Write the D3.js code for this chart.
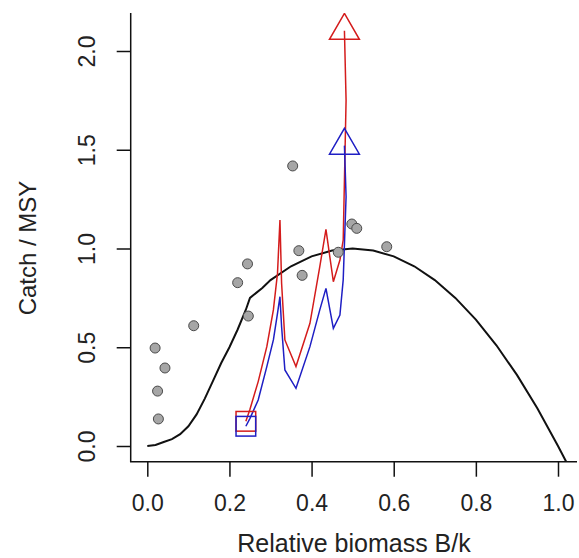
<!DOCTYPE html>
<head>
    <meta charset="utf-8">
    <script src="https://cdn.jsdelivr.net/npm/d3@7"></script>
    <style>
      body {
          margin: 0;
          background: #fff;
      }

      text {
          font-family: 'Liberation Sans', Arial, sans-serif;
          fill: #222;
      }

      .curve {
        fill: none;
        stroke: #111;
        stroke-width: 2px;
      }

      .red {
        fill: none;
        stroke: #d41c1c;
        stroke-width: 1.5px;
      }

      .blue {
        fill: none;
        stroke: #1f1fc4;
        stroke-width: 1.5px;
      }

      .obs {
        fill: #a6a6a6;
        stroke: #4a4a4a;
        stroke-width: 1px;
      }
  </style>
</head>
<body>
<svg id="chart" width="579" height="558"></svg>
<script>
  // observed catch points (B/k, catch/MSY)
  var obsB = [0.019, 0.043, 0.025, 0.027, 0.113, 0.220, 0.244, 0.246, 0.354, 0.369, 0.377, 0.465, 0.498, 0.510, 0.583];
  var obsC = [0.496, 0.395, 0.278, 0.137, 0.609, 0.827, 0.922, 0.658, 1.418, 0.989, 0.864, 0.981, 1.124, 1.102, 1.009];

  // equilibrium curve
  var curveB = [0.00, 0.02, 0.04, 0.06, 0.08, 0.10, 0.12, 0.14, 0.16, 0.18, 0.20, 0.22, 0.24, 0.25, 0.28, 0.30, 0.35, 0.40, 0.45, 0.50, 0.55, 0.60, 0.65, 0.70, 0.75, 0.80, 0.85, 0.90, 0.95, 1.00, 1.02];
  var curveC = [0.00, 0.005, 0.02, 0.035, 0.06, 0.10, 0.16, 0.24, 0.33, 0.42, 0.50, 0.59, 0.69, 0.75, 0.80, 0.84, 0.91, 0.96, 0.99, 1.00, 0.99, 0.96, 0.91, 0.84, 0.75, 0.64, 0.51, 0.36, 0.19, 0.00, -0.08];

  // trajectories: shared biomass, two catch/MSY series
  var trajB    = [0.240, 0.250, 0.270, 0.291, 0.307, 0.317, 0.323, 0.327, 0.335, 0.362, 0.396, 0.420, 0.435, 0.453, 0.469, 0.477, 0.484, 0.480];
  var trajRed  = [0.125, 0.186, 0.326, 0.503, 0.689, 0.874, 1.144, 0.824, 0.537, 0.402, 0.621, 0.908, 1.097, 0.832, 0.942, 1.043, 1.750, 2.103];
  var trajBlue = [0.100, 0.140, 0.233, 0.402, 0.537, 0.672, 0.756, 0.604, 0.385, 0.292, 0.503, 0.689, 0.798, 0.596, 0.663, 0.841, 1.262, 1.521];

  var xTicks = [0, 0.2, 0.4, 0.6, 0.8, 1.0];
  var yTicks = [0, 0.5, 1.0, 1.5, 2.0];

  var svg = d3.select("#chart");
  var box = { left: 130.7, right: 577, top: 13, bottom: 461.7 };

  var x = d3.scaleLinear().domain([0, 1]).range([147.3, 558]);
  var y = d3.scaleLinear().domain([0, 2]).range([446, 51]);

  svg.append("rect").attr("width", 579).attr("height", 558).attr("fill", "#fff");

  svg.append("defs").append("clipPath")
      .attr("id", "clip")
    .append("rect")
      .attr("x", box.left)
      .attr("y", box.top)
      .attr("width", box.right - box.left)
      .attr("height", box.bottom - box.top);

  // L shaped box
  svg.append("path")
      .attr("d", "M" + box.left + "," + box.top + "V" + box.bottom + "H" + box.right)
      .attr("fill", "none")
      .attr("stroke", "#111")
      .attr("stroke-width", 1.5);

  var gx = svg.append("g")
      .attr("transform", "translate(0," + box.bottom + ")")
      .call(d3.axisBottom(x).tickValues(xTicks).tickFormat(d3.format(".1f"))
            .tickSize(15).tickSizeOuter(0).tickPadding(18));
  gx.select(".domain").remove();
  gx.selectAll("line").attr("stroke", "#111").attr("stroke-width", 1.5);
  gx.selectAll("text").attr("font-size", 23).attr("fill", "#222");

  var gy = svg.append("g")
      .attr("transform", "translate(" + box.left + ",0)")
      .call(d3.axisLeft(y).tickValues(yTicks).tickFormat(d3.format(".1f"))
            .tickSize(14).tickSizeOuter(0));
  gy.select(".domain").remove();
  gy.selectAll("line").attr("stroke", "#111").attr("stroke-width", 1.5);
  gy.selectAll("text")
      .attr("font-size", 23)
      .attr("fill", "#222")
      .attr("x", 0)
      .attr("dy", "0.35em")
      .attr("text-anchor", "middle")
      .attr("transform", "translate(-44,0) rotate(-90)");

  svg.append("text")
      .attr("x", 354)
      .attr("y", 552)
      .attr("text-anchor", "middle")
      .attr("font-size", 25)
      .text("Relative biomass B/k");

  svg.append("text")
      .attr("transform", "translate(28,248) rotate(-90)")
      .attr("dy", "0.35em")
      .attr("text-anchor", "middle")
      .attr("font-size", 24)
      .text("Catch / MSY");

  var plot = svg.append("g").attr("clip-path", "url(#clip)");

  var line = d3.line()
      .x(function(d) { return x(d[0]); })
      .y(function(d) { return y(d[1]); });

  plot.append("path")
      .datum(d3.zip(curveB, curveC))
      .attr("class", "curve")
      .attr("d", line);

  plot.append("path")
      .datum(d3.zip(trajB, trajRed))
      .attr("class", "red")
      .attr("d", line);

  plot.append("path")
      .datum(d3.zip(trajB, trajBlue))
      .attr("class", "blue")
      .attr("d", line);

  plot.selectAll("circle.obs")
      .data(d3.zip(obsB, obsC))
    .enter().append("circle")
      .attr("class", "obs")
      .attr("cx", function(d) { return x(d[0]); })
      .attr("cy", function(d) { return y(d[1]); })
      .attr("r", 5);

  // start (square) and end (triangle) markers, R pch 0 and pch 2 proportions
  var s = 11.1;
  function markers(cls, cValues) {
    var n = trajB.length - 1;
    var sq = 0.886 * s;
    plot.append("rect")
        .attr("class", cls)
        .attr("x", x(trajB[0]) - sq)
        .attr("y", y(cValues[0]) - sq)
        .attr("width", 2 * sq)
        .attr("height", 2 * sq);
    var cx = x(trajB[n]), cy = y(cValues[n]);
    var r = 1.555 * s, xc = 1.347 * s, yc = 0.778 * s;
    plot.append("path")
        .attr("class", cls)
        .attr("d", "M" + cx + "," + (cy - r) + "L" + (cx + xc) + "," + (cy + yc) +
                   "L" + (cx - xc) + "," + (cy + yc) + "Z");
  }
  markers("red", trajRed);
  markers("blue", trajBlue);
</script>
</body>
